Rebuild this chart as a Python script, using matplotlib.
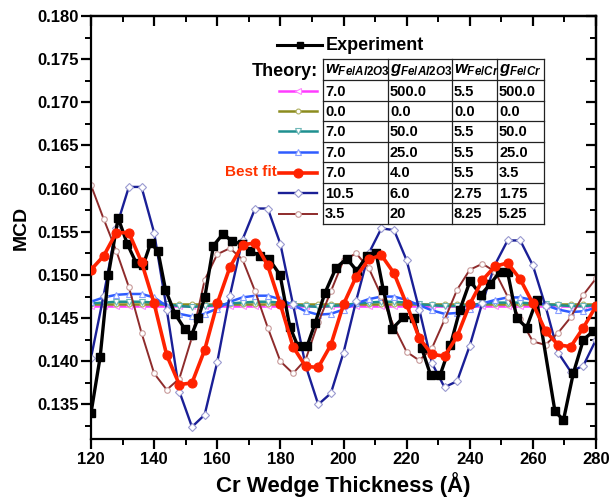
import matplotlib
matplotlib.use("Agg")
import matplotlib.pyplot as plt
from matplotlib.lines import Line2D
from matplotlib.ticker import MultipleLocator

plt.rcParams["font.family"] = ["Liberation Sans", "DejaVu Sans"]
plt.rcParams["font.weight"] = "bold"
plt.rcParams["mathtext.fontset"] = "custom"
plt.rcParams["mathtext.it"] = "Liberation Sans:italic:bold"
plt.rcParams["mathtext.rm"] = "Liberation Sans:bold"
plt.rcParams["mathtext.default"] = "it"

# ---- data -------------------------------------------------------------
exp_thickness = [120.0, 122.9, 125.5, 128.6, 131.5, 134.3, 136.6, 138.9, 141.2,
                 143.6, 146.6, 149.8, 151.9, 154.0, 156.1, 158.8, 161.9, 164.6,
                 167.7, 170.4, 173.5, 176.5, 179.9, 183.0, 185.5, 188.5, 191.0,
                 194.1, 197.6, 201.0, 204.2, 207.4, 210.3, 212.6, 215.5, 219.0,
                 222.2, 224.8, 227.6, 230.6, 233.9, 236.9, 240.1, 243.5, 246.4,
                 249.6, 252.0, 254.9, 258.0, 261.2, 267.0, 269.7, 272.8, 276.0,
                 279.2]
exp_mcd = [0.1340, 0.1405, 0.1500, 0.1566, 0.1536, 0.1514, 0.1512, 0.1537, 0.1528,
           0.1483, 0.1455, 0.1437, 0.1431, 0.1450, 0.1475, 0.1534, 0.1548, 0.1539,
           0.1536, 0.1528, 0.1522, 0.1518, 0.1500, 0.1440, 0.1418, 0.1418, 0.1444,
           0.1479, 0.1508, 0.1519, 0.1505, 0.1522, 0.1526, 0.1483, 0.1438, 0.1451,
           0.1450, 0.1415, 0.1384, 0.1384, 0.1419, 0.1460, 0.1493, 0.1477, 0.1489,
           0.1504, 0.1503, 0.1450, 0.1439, 0.1471, 0.1342, 0.1332, 0.1386, 0.1425,
           0.1435]

thickness = [120, 124, 128, 132, 136, 140, 144, 148, 152, 156, 160, 164, 168, 172,
             176, 180, 184, 188, 192, 196, 200, 204, 208, 212, 216, 220, 224, 228,
             232, 236, 240, 244, 248, 252, 256, 260, 264, 268, 272, 276, 280]

mcd_g500 = [0.1464, 0.1464, 0.1464, 0.1464, 0.1464, 0.1464, 0.1464, 0.1464, 0.1464,
            0.1464, 0.1464, 0.1464, 0.1464, 0.1464, 0.1464, 0.1464, 0.1464, 0.1464,
            0.1464, 0.1464, 0.1464, 0.1464, 0.1464, 0.1464, 0.1464, 0.1464, 0.1464,
            0.1464, 0.1464, 0.1464, 0.1464, 0.1464, 0.1464, 0.1464, 0.1464, 0.1464,
            0.1464, 0.1464, 0.1464, 0.1464, 0.1464]
mcd_w0 = [0.1466, 0.1466, 0.1466, 0.1466, 0.1466, 0.1466, 0.1466, 0.1466, 0.1466,
          0.1466, 0.1466, 0.1466, 0.1466, 0.1466, 0.1466, 0.1466, 0.1466, 0.1466,
          0.1466, 0.1466, 0.1466, 0.1466, 0.1466, 0.1466, 0.1466, 0.1466, 0.1466,
          0.1466, 0.1466, 0.1466, 0.1466, 0.1466, 0.1466, 0.1466, 0.1466, 0.1466,
          0.1466, 0.1466, 0.1466, 0.1466, 0.1466]
mcd_g50 = [0.1467, 0.1468, 0.1469, 0.1469, 0.1469, 0.1468, 0.1466, 0.1464, 0.1463,
           0.1464, 0.1465, 0.1467, 0.1468, 0.1469, 0.1469, 0.1468, 0.1466, 0.1464,
           0.1463, 0.1464, 0.1465, 0.1467, 0.1468, 0.1469, 0.1469, 0.1468, 0.1466,
           0.1465, 0.1464, 0.1464, 0.1465, 0.1467, 0.1468, 0.1468, 0.1468, 0.1467,
           0.1466, 0.1465, 0.1464, 0.1464, 0.1465]
mcd_g25 = [0.1469, 0.1474, 0.1477, 0.1478, 0.1478, 0.1474, 0.1464, 0.1455, 0.1452,
           0.1455, 0.1461, 0.1469, 0.1474, 0.1476, 0.1476, 0.1472, 0.1465, 0.1458,
           0.1454, 0.1455, 0.1460, 0.1467, 0.1472, 0.1475, 0.1475, 0.1471, 0.1465,
           0.1459, 0.1455, 0.1456, 0.1461, 0.1467, 0.1471, 0.1474, 0.1474, 0.1471,
           0.1465, 0.1460, 0.1457, 0.1458, 0.1462]
mcd_best = [0.1506, 0.1522, 0.1549, 0.1549, 0.1515, 0.1467, 0.1407, 0.1373, 0.1375,
            0.1413, 0.1467, 0.1509, 0.1535, 0.1537, 0.1511, 0.1466, 0.1417, 0.1394,
            0.1393, 0.1419, 0.1466, 0.1498, 0.1518, 0.1523, 0.1502, 0.1466, 0.1427,
            0.1408, 0.1406, 0.1429, 0.1466, 0.1494, 0.1510, 0.1514, 0.1495, 0.1467,
            0.1435, 0.1419, 0.1417, 0.1439, 0.1464]
mcd_w105 = [0.1404, 0.1476, 0.1555, 0.1602, 0.1602, 0.1549, 0.1460, 0.1365, 0.1324,
            0.1338, 0.1399, 0.1476, 0.1541, 0.1577, 0.1577, 0.1536, 0.1466, 0.1395,
            0.1350, 0.1363, 0.1410, 0.1470, 0.1525, 0.1554, 0.1552, 0.1517, 0.1460,
            0.1398, 0.1370, 0.1377, 0.1418, 0.1468, 0.1512, 0.1540, 0.1540, 0.1511,
            0.1464, 0.1410, 0.1388, 0.1395, 0.1425]
mcd_w35 = [0.1604, 0.1565, 0.1528, 0.1486, 0.1433, 0.1386, 0.1367, 0.1380, 0.1428,
           0.1494, 0.1524, 0.1531, 0.1518, 0.1481, 0.1439, 0.1400, 0.1386, 0.1402,
           0.1445, 0.1481, 0.1517, 0.1525, 0.1508, 0.1476, 0.1440, 0.1411, 0.1401,
           0.1415, 0.1448, 0.1483, 0.1506, 0.1513, 0.1504, 0.1475, 0.1449, 0.1423,
           0.1419, 0.1433, 0.1451, 0.1477, 0.1496]

table_header = ["w_{Fe/Al2O3}", "g_{Fe/Al2O3}", "w_{Fe/Cr}", "g_{Fe/Cr}"]
table_rows = [["7.0", "500.0", "5.5", "500.0"],
              ["0.0", "0.0", "0.0", "0.0"],
              ["7.0", "50.0", "5.5", "50.0"],
              ["7.0", "25.0", "5.5", "25.0"],
              ["7.0", "4.0", "5.5", "3.5"],
              ["10.5", "6.0", "2.75", "1.75"],
              ["3.5", "20", "8.25", "5.25"]]

# ---- styles for theory curves (same order as table rows) --------------
theory = [
    (mcd_g500, dict(color="#ff3cff", lw=1.8, marker="<", ms=4.5, mfc="white", mec="#ff88ff", mew=0.8)),
    (mcd_w0, dict(color="#8c8c1e", lw=1.8, marker="o", ms=3.5, mfc="white", mec="#b0b060", mew=0.8)),
    (mcd_g50, dict(color="#1f9090", lw=1.8, marker="v", ms=4.5, mfc="white", mec="#70b8b8", mew=0.8)),
    (mcd_g25, dict(color="#2f5cff", lw=1.8, marker="^", ms=4.5, mfc="white", mec="#8aa0ff", mew=0.8)),
    (mcd_best, dict(color="#ff2200", lw=2.6, marker="o", ms=6.5, mfc="#ff2200", mec="#ff2200", mew=0.8)),
    (mcd_w105, dict(color="#1a1f96", lw=1.7, marker="D", ms=4.0, mfc="white", mec="#9a9ad0", mew=0.8)),
    (mcd_w35, dict(color="#8e2b2b", lw=1.4, marker="o", ms=4.0, mfc="white", mec="#c89a9a", mew=0.8)),
]

W, H = 612, 501
fig = plt.figure(figsize=(W / 100, H / 100), dpi=100)
ax = fig.add_axes([91 / W, (H - 439) / H, (596 - 91) / W, (439 - 16) / H])

draw_order = [0, 1, 2, 3, 5, 6]
for i in draw_order:
    vals, st = theory[i]
    ax.plot(thickness, vals, zorder=2, **st)
ax.plot(exp_thickness, exp_mcd, color="black", lw=2.4, marker="s", ms=5.5,
        mfc="black", mec="black", zorder=3)
vals, st = theory[4]
ax.plot(thickness, vals, zorder=4, **st)

ax.set_xlim(120, 280)
ax.set_ylim(0.131, 0.180)
ax.xaxis.set_major_locator(MultipleLocator(20))
ax.xaxis.set_minor_locator(MultipleLocator(10))
ax.yaxis.set_major_locator(MultipleLocator(0.005))
ax.yaxis.set_minor_locator(MultipleLocator(0.0025))
ax.yaxis.set_major_formatter(matplotlib.ticker.FormatStrFormatter("%.3f"))
for sp in ax.spines.values():
    sp.set_linewidth(1.6)
ax.tick_params(which="major", direction="out", length=7, width=1.6,
               labelsize=12, pad=2)
ax.tick_params(which="minor", direction="out", length=4, width=1.4)
# mirrored top/right ticks point inward
sec_x = ax.secondary_xaxis("top")
sec_x.xaxis.set_major_locator(MultipleLocator(20))
sec_x.xaxis.set_minor_locator(MultipleLocator(10))
sec_x.tick_params(which="major", direction="in", length=7, width=1.6, labeltop=False)
sec_x.tick_params(which="minor", direction="in", length=4, width=1.4)
sec_x.spines["top"].set_linewidth(1.6)
sec_y = ax.secondary_yaxis("right")
sec_y.yaxis.set_major_locator(MultipleLocator(0.005))
sec_y.yaxis.set_minor_locator(MultipleLocator(0.0025))
sec_y.tick_params(which="major", direction="in", length=7, width=1.6, labelright=False)
sec_y.tick_params(which="minor", direction="in", length=4, width=1.4)
sec_y.spines["right"].set_linewidth(1.6)
ax.tick_params(which="both", top=False, right=False)

ax.set_xlabel("Cr Wedge Thickness (Å)", fontsize=16, fontweight="bold", labelpad=4)
ax.set_ylabel("MCD", fontsize=14, fontweight="bold", labelpad=5)


# ---- legend table, positioned in figure pixels ------------------------
def fx(px):
    return px / W


def fy(py):
    return 1 - py / H


col_x = [323, 388, 452, 497, 544]
row_y = [59, 80, 101, 121, 142, 162, 183, 203, 224]
for x in col_x:
    fig.add_artist(Line2D([fx(x), fx(x)], [fy(row_y[0]), fy(row_y[-1])],
                          color="#222222", lw=0.9))
for y in row_y:
    fig.add_artist(Line2D([fx(col_x[0]), fx(col_x[-1])], [fy(y), fy(y)],
                          color="#222222", lw=0.9))

for j, head in enumerate(table_header):
    fig.text(fx(col_x[j] + 2), fy((row_y[0] + row_y[1]) / 2 + 1), "$" + head + "$",
             fontsize=12, ha="left", va="center")

for r, row in enumerate(table_rows):
    yc = (row_y[r + 1] + row_y[r + 2]) / 2
    for j, cell in enumerate(row):
        fig.text(fx(col_x[j] + 2), fy(yc + 1), cell, fontsize=10.5,
                 fontweight="bold", ha="left", va="center")
    vals, st = theory[r]
    fig.add_artist(Line2D([fx(279), fx(317)], [fy(yc), fy(yc)], color=st["color"],
                          lw=st["lw"]))
    fig.add_artist(Line2D([fx(298)], [fy(yc)], ls="none", marker=st["marker"],
                          markersize=st["ms"], markerfacecolor=st["mfc"],
                          markeredgecolor=st["mec"], markeredgewidth=st["mew"]))

best_y = (row_y[5] + row_y[6]) / 2
fig.text(fx(277), fy(best_y), "Best fit", color="#ff3300", fontsize=11,
         fontweight="bold", ha="right", va="center")

fig.add_artist(Line2D([fx(277), fx(322)], [fy(45), fy(45)], color="black", lw=2.2))
fig.add_artist(Line2D([fx(300)], [fy(45)], ls="none", marker="s", markersize=5,
                      markerfacecolor="black", markeredgecolor="black"))
fig.text(fx(326), fy(45), "Experiment", fontsize=13, fontweight="bold",
         ha="left", va="center")
fig.text(fx(318), fy(71), "Theory:", fontsize=13, fontweight="bold",
         ha="right", va="center")

fig.savefig("out.png", dpi=100)
